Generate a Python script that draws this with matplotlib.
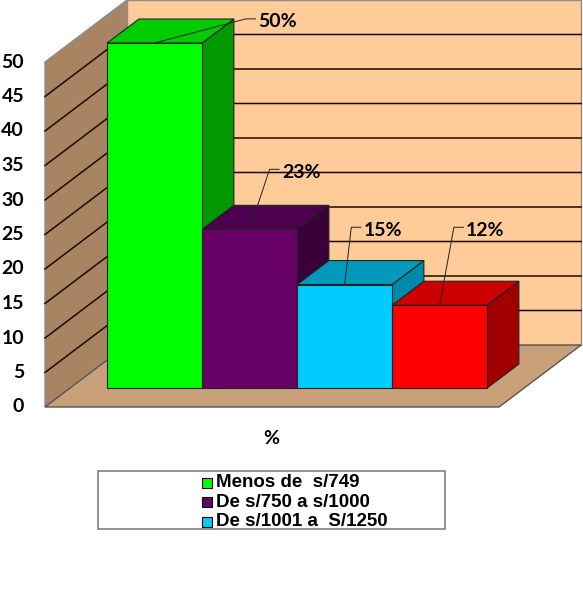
import matplotlib
matplotlib.use("Agg")
import matplotlib.pyplot as plt
from matplotlib.patches import Polygon, Rectangle

# data
categories = ["Menos de  s/749", "De s/750 a s/1000", "De s/1001 a  S/1250", "Mas de S/1250"]
values = [50, 23, 15, 12]
value_labels = ["50%", "23%", "15%", "12%"]
yticks = [0, 5, 10, 15, 20, 25, 30, 35, 40, 45, 50]
xlabel = "%"

# styles
front_colors = ["#00FF00", "#660066", "#00CCFF", "#FF0000"]
top_colors = ["#00CC00", "#4D004D", "#0099BB", "#CC0000"]
side_colors = ["#009900", "#3A003A", "#0088AA", "#A00000"]
wall_back = "#FFCC99"
wall_left = "#A88462"
floor_col = "#C8A07A"
# leader end offsets (x units, y units) from bar front-top centre
label_off = [(0.96, 3.5), (0.21, 8.7), (0.07, 8.3), (0.15, 11.3)]

# projection: depth z in [0, 1], front of floor at z=0, back wall at z=1
KX, KY = 82 / 95, 62 / 6.9
GAP = 0.39
XL, XR = -GAP, len(values) + GAP
YMAX = 50
Z0, DZ = 0.306, 0.387


def proj(x, y, z):
    return (x + z * KX, y + z * KY)


fig = plt.figure(figsize=(5.83, 6.13), dpi=100)
ax = fig.add_axes([0, 0, 1, 1])
xmin = XL - 45 / 95
ax.set_xlim(xmin, xmin + 583 / 95)
ax.set_ylim(407 / 6.9 - 613 / 6.9, 407 / 6.9)
ax.axis("off")

# walls and floor
back = [proj(XL, 0, 1), proj(XR, 0, 1), proj(XR, YMAX, 1), proj(XL, YMAX, 1)]
left = [proj(XL, 0, 0), proj(XL, 0, 1), proj(XL, YMAX, 1), proj(XL, YMAX, 0)]
floor = [proj(XL, 0, 0), proj(XR, 0, 0), proj(XR, 0, 1), proj(XL, 0, 1)]
ax.add_patch(Polygon(back, closed=True, facecolor=wall_back, edgecolor="#8c8c8c", lw=1, zorder=1))
ax.add_patch(Polygon(left, closed=True, facecolor=wall_left, edgecolor="#8c8c8c", lw=1, zorder=1))
ax.add_patch(Polygon(floor, closed=True, facecolor=floor_col, edgecolor="#555555", lw=1, zorder=1))

# gridlines
for v in yticks[1:-1]:
    p0, p1, p2 = proj(XL, v, 0), proj(XL, v, 1), proj(XR, v, 1)
    ax.plot([p0[0], p1[0], p2[0]], [p0[1], p1[1], p2[1]], color="#1a0a00", lw=1.1, zorder=2)

# tick labels
for v in yticks:
    ax.text(XL - 0.22, v, str(v), ha="right", va="center", fontsize=14,
            fontweight="bold", family="Lato")

# bars
for i, v in enumerate(values):
    x0, x1 = i, i + 1
    za, zb = Z0, Z0 + DZ
    side = [proj(x1, 0, za), proj(x1, 0, zb), proj(x1, v, zb), proj(x1, v, za)]
    top = [proj(x0, v, za), proj(x1, v, za), proj(x1, v, zb), proj(x0, v, zb)]
    front = [proj(x0, 0, za), proj(x1, 0, za), proj(x1, v, za), proj(x0, v, za)]
    ax.add_patch(Polygon(side, closed=True, facecolor=side_colors[i], edgecolor="#222222", lw=0.8, zorder=3))
    ax.add_patch(Polygon(top, closed=True, facecolor=top_colors[i], edgecolor="#222222", lw=0.8, zorder=3))
    ax.add_patch(Polygon(front, closed=True, facecolor=front_colors[i], edgecolor="#222222", lw=0.8, zorder=3))

# value labels with leader lines
for i, v in enumerate(values):
    sx, sy = proj(i + 0.5, v, Z0)
    ex, ey = sx + label_off[i][0], sy + label_off[i][1]
    ax.plot([sx, ex, ex + 0.1], [sy, ey, ey], color="#222222", lw=0.7, zorder=4)
    ax.text(ex + 0.13, ey - 0.4, value_labels[i], ha="left", va="center", fontsize=14,
            fontweight="bold", family="Lato", zorder=5)

ax.text(xmin + 271 / 95, -4.6, xlabel, ha="center", va="center", fontsize=14,
        fontweight="bold", family="Lato")

# legend (only first three entries visible)
lx0, lx1 = xmin + 98 / 95, xmin + 445 / 95
ly_top, ly_bot = (407 - 471) / 6.9, (407 - 529) / 6.9
ax.add_patch(Rectangle((lx0, ly_bot), lx1 - lx0, ly_top - ly_bot, facecolor="white",
                       edgecolor="#808080", lw=1.2))
for j in range(3):
    yy = ly_top - (9.5 + 19.5 * j) / 6.9 - 0.3
    mx = xmin + 202 / 95
    ax.add_patch(Rectangle((mx, yy - 5 / 6.9), 10 / 95, 10 / 6.9, facecolor=front_colors[j],
                           edgecolor="black", lw=0.8))
    ax.text(xmin + 216 / 95, yy, categories[j], ha="left", va="center", fontsize=13.5,
            fontweight="bold", family="Liberation Sans")

fig.savefig("out.png", dpi=100)
